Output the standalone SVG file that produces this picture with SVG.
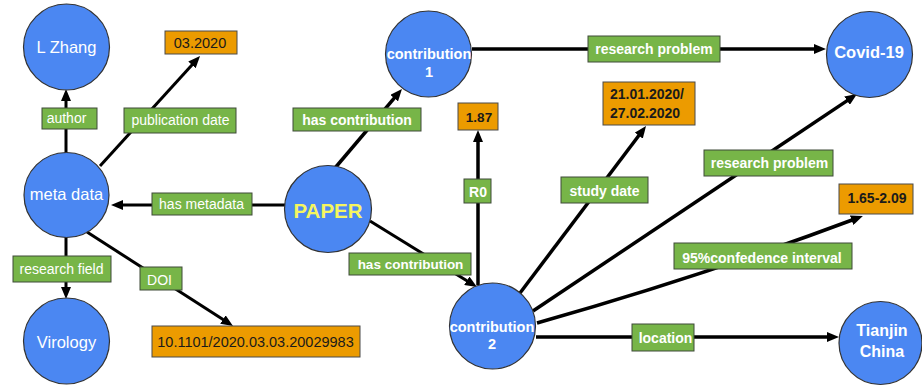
<svg xmlns="http://www.w3.org/2000/svg" width="922" height="390" viewBox="0 0 922 390">
  <style>
    .edge { fill: none; stroke: #000; stroke-width: 3; marker-end: url(#arrow); }
    .thick { stroke-width: 3.5; }
    .lbl { fill: #77b548; stroke: #3f4a38; stroke-width: 1; }
    .val { fill: #ec9b00; stroke: #4a4a4a; stroke-width: 1; }
    .node { fill: #4b87f2; stroke: #333; stroke-width: 1.2; }
    text { font-family: "Liberation Sans", Arial, sans-serif; text-anchor: middle; }
    .lt { fill: #fff; font-size: 14px; }
    .ltb { fill: #fff; font-size: 14px; font-weight: bold; }
    .vt { fill: #1a1a1a; font-size: 14.5px; }
    .vtb { fill: #1a1a1a; font-size: 14px; font-weight: bold; }
    .nt { fill: #fff; font-size: 16.5px; }
    .ntb { fill: #fff; font-size: 16px; font-weight: bold; }
    .ct { fill: #fff; font-size: 14.5px; font-weight: bold; }
  </style>
  <defs>
    <marker id="arrow" viewBox="0 0 12 10" refX="2" refY="5" markerWidth="12" markerHeight="10" markerUnits="userSpaceOnUse" orient="auto">
      <path d="M0,0 L12,5 L0,10 z" fill="#000"/>
    </marker>
  </defs>

  <g id="connectors">
    <g id="e-author">
      <line class="edge" x1="66" y1="153" x2="66" y2="99"/>
      <rect class="lbl" x="42" y="108" width="55" height="21"/>
      <text class="lt" x="66.5" y="123">author</text>
    </g>
    <g id="e-pubdate">
      <line class="edge" x1="100" y1="166" x2="193.3" y2="63.4"/>
      <rect class="lbl" x="124" y="108" width="112" height="25"/>
      <text class="lt" x="180.5" y="125">publication date</text>
    </g>
    <g id="e-hasmetadata">
      <line class="edge" x1="285" y1="205" x2="121" y2="205"/>
      <rect class="lbl" x="152" y="193" width="100" height="22"/>
      <text class="lt" x="201.5" y="208.5">has metadata</text>
    </g>
    <g id="e-field">
      <line class="edge" x1="66" y1="237" x2="66" y2="289"/>
      <rect class="lbl" x="13" y="256" width="98" height="26"/>
      <text class="lt" x="61.5" y="274">research field</text>
    </g>
    <g id="e-doi">
      <line class="edge" x1="87" y1="232" x2="224.6" y2="320.6"/>
      <rect class="lbl" x="140" y="267" width="42" height="23"/>
      <text class="lt" x="159.5" y="284.5">DOI</text>
    </g>
    <g id="e-hascontr1">
      <line class="edge thick" x1="335" y1="168" x2="395.5" y2="96.6"/>
      <rect class="lbl" x="293" y="108" width="128" height="23"/>
      <text class="ltb" x="357" y="124.5" font-size="13.5">has contribution</text>
    </g>
    <g id="e-hascontr2">
      <line class="edge" x1="370" y1="221" x2="468.5" y2="281.8"/>
      <rect class="lbl" x="349" y="253" width="122" height="22"/>
      <text class="ltb" x="410.5" y="269" style="font-size:13.5px">has contribution</text>
    </g>
    <g id="e-rp1">
      <line class="edge thick" x1="472" y1="49" x2="816" y2="49"/>
      <rect class="lbl" x="588" y="36" width="132" height="26"/>
      <text class="ltb" x="654" y="53.5">research problem</text>
    </g>
    <g id="e-r0">
      <line class="edge thick" x1="478" y1="285" x2="478" y2="140"/>
      <rect class="lbl" x="464" y="179" width="27" height="24"/>
      <text class="ltb" x="478" y="196.5">R0</text>
    </g>
    <g id="e-studydate">
      <line class="edge thick" x1="520" y1="293" x2="640" y2="134"/>
      <rect class="lbl" x="561" y="177" width="87" height="26"/>
      <text class="ltb" x="604.5" y="196">study date</text>
    </g>
    <g id="e-rp2">
      <line class="edge thick" x1="533" y1="311" x2="848.7" y2="99.6"/>
      <rect class="lbl" x="704" y="150" width="129" height="26"/>
      <text class="ltb" x="769.5" y="167.5">research problem</text>
    </g>
    <g id="e-ci">
      <path class="edge thick" d="M537,323 Q700,277 853.5,219.5"/>
      <rect class="lbl" x="674" y="243" width="178" height="26"/>
      <text class="ltb" x="762" y="263">95%confedence interval</text>
    </g>
    <g id="e-location">
      <line class="edge thick" x1="536" y1="337" x2="829" y2="337"/>
      <rect class="lbl" x="632" y="324" width="62" height="27"/>
      <text class="ltb" x="665.5" y="343">location</text>
    </g>
  </g>

  <g id="n-lzhang">
    <circle class="node" cx="66.5" cy="47" r="43"/>
    <text class="nt" x="66.5" y="53">L Zhang</text>
  </g>
  <g id="n-metadata">
    <circle class="node" cx="66.5" cy="195" r="42.5"/>
    <text class="nt" x="66.5" y="200">meta data</text>
  </g>
  <g id="n-virology">
    <circle class="node" cx="66.5" cy="341" r="43"/>
    <text class="nt" x="66.5" y="348">Virology</text>
  </g>
  <g id="n-paper">
    <circle class="node" cx="328" cy="209" r="43.5"/>
    <text x="328" y="218" style="fill:#f5f55f;font-size:20.5px;font-weight:bold">PAPER</text>
  </g>
  <g id="n-contr1">
    <circle class="node" cx="428.5" cy="54" r="43"/>
    <text class="ct" x="429" y="59">contribution</text>
    <text class="ct" x="429" y="77">1</text>
  </g>
  <g id="n-contr2">
    <circle class="node" cx="492.5" cy="326" r="43"/>
    <text class="ct" x="492" y="331.5">contribution</text>
    <text class="ct" x="492" y="349">2</text>
  </g>
  <g id="n-covid">
    <circle class="node" cx="869.5" cy="54.5" r="43"/>
    <text class="ntb" x="869" y="58" style="font-size:16.5px">Covid-19</text>
  </g>
  <g id="n-tianjin">
    <circle class="node" cx="880.5" cy="343" r="41.5"/>
    <text class="ntb" x="882" y="336">Tianjin</text>
    <text class="ntb" x="882" y="357">China</text>
  </g>
  <g id="n-date">
    <rect class="val" x="165" y="31" width="72" height="23"/>
    <text class="vt" x="200" y="48">03.2020</text>
  </g>
  <g id="n-doi">
    <rect class="val" x="152" y="326" width="208" height="31"/>
    <text class="vt" x="255.5" y="347">10.1101/2020.03.03.20029983</text>
  </g>
  <g id="n-r0val">
    <rect class="val" x="458" y="103" width="40" height="27"/>
    <text class="vtb" x="479" y="122" style="font-size:13.5px">1.87</text>
  </g>
  <g id="n-studydate">
    <rect class="val" x="603" y="82" width="92" height="43"/>
    <text class="vtb" x="610" y="99" style="text-anchor:start">21.01.2020/</text>
    <text class="vtb" x="610" y="118" style="text-anchor:start">27.02.2020</text>
  </g>
  <g id="n-ci">
    <rect class="val" x="839" y="184" width="74" height="30"/>
    <text class="vtb" x="877" y="203">1.65-2.09</text>
  </g>
</svg>
